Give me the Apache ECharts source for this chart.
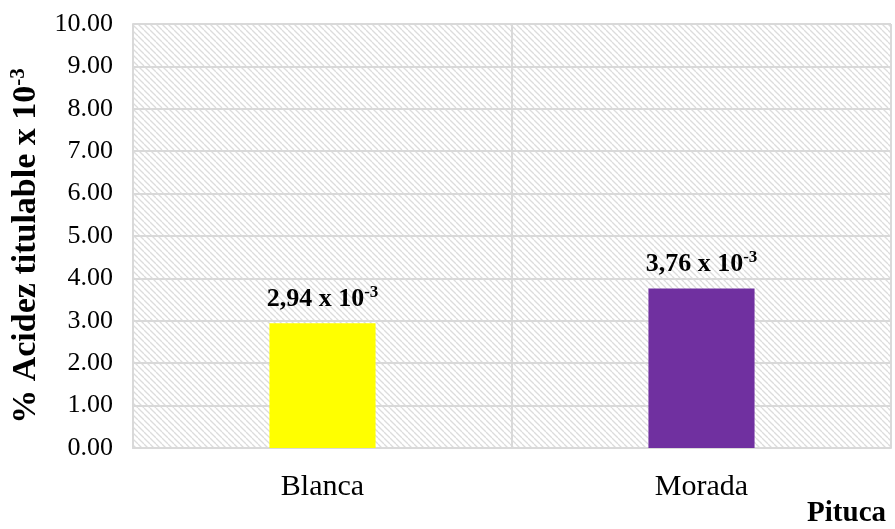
<!DOCTYPE html>
<html>
<head>
<meta charset="utf-8">
<script src="https://cdn.jsdelivr.net/npm/echarts@6/dist/echarts.min.js"></script>
<style>
  html, body { margin: 0; padding: 0; background: #fff; }
  #chart { width: 895px; height: 529px; }
</style>
</head>
<body>
<div id="chart"></div>
<script>
// Variedades de pituca y su acidez titulable (x 10^-3)
const categories = ['Blanca', 'Morada'];
const values = [2.94, 3.76];
const barColors = ['#FFFF00', '#7030A0'];
const yTicks = [0, 1, 2, 3, 4, 5, 6, 7, 8, 9, 10];

const serif = '"Liberation Serif", "Times New Roman", serif';
const gridGray = '#d9d9d9';

// Diagonal hatch tile for the plot background
function hatchTile() {
  const size = 6;
  const c = document.createElement('canvas');
  c.width = size; c.height = size;
  const g = c.getContext('2d');
  g.strokeStyle = '#dcdcdc';
  g.lineWidth = 1.3;
  for (let k = -1; k <= 1; k++) {
    g.beginPath();
    g.moveTo(k * size, 0);
    g.lineTo(k * size + size, size);
    g.stroke();
  }
  return c;
}

const chart = echarts.init(document.getElementById('chart'));
chart.setOption({
  animation: false,
  backgroundColor: '#ffffff',
  title: {
    text: 'Pituca',
    right: 4,
    bottom: -4,
    textStyle: { fontFamily: serif, fontWeight: 'bold', fontSize: 29, color: '#000' }
  },
  grid: {
    left: 133, right: 4, top: 24, bottom: 81,
    outerBoundsMode: 'none',
    containLabel: false,
    show: true,
    borderWidth: 0,
    backgroundColor: { image: hatchTile(), repeat: 'repeat' }
  },
  xAxis: {
    type: 'category',
    data: categories,
    axisLine: { lineStyle: { color: gridGray, width: 2 } },
    axisTick: { show: false },
    splitLine: { show: true, lineStyle: { color: gridGray, width: 2 } },
    axisLabel: { fontFamily: serif, fontSize: 30, color: '#000', margin: 24 }
  },
  yAxis: {
    type: 'value',
    min: yTicks[0],
    max: yTicks[yTicks.length - 1],
    interval: 1,
    name: '{m|% Acidez titulable x 10}{s|-3}',
    nameLocation: 'middle',
    nameGap: 82,
    nameTextStyle: {
      padding: [0, 20, 0, 0],
      rich: {
        m: { fontFamily: serif, fontWeight: 'bold', fontSize: 34, color: '#000', lineHeight: 38 },
        s: { fontFamily: serif, fontWeight: 'bold', fontSize: 21, color: '#000', verticalAlign: 'top', lineHeight: 21 }
      }
    },
    axisLine: { show: true, lineStyle: { color: gridGray, width: 2 } },
    axisTick: { show: false },
    splitLine: { show: true, lineStyle: { color: gridGray, width: 2 } },
    axisLabel: {
      fontFamily: serif, fontSize: 26, color: '#000', margin: 20,
      formatter: v => v.toFixed(2)
    }
  },
  series: [{
    type: 'bar',
    data: values.map((v, i) => ({ value: v, itemStyle: { color: barColors[i] } })),
    barWidth: '28%',
    label: {
      show: true,
      position: 'top',
      distance: 9,
      formatter: p => '{m|' + p.value.toFixed(2).replace('.', ',') + ' x 10}{s|-3}',
      rich: {
        m: { fontFamily: serif, fontWeight: 'bold', fontSize: 26, color: '#000', lineHeight: 30 },
        s: { fontFamily: serif, fontWeight: 'bold', fontSize: 17, color: '#000', verticalAlign: 'top', lineHeight: 17 }
      }
    }
  }]
});
</script>
</body>
</html>
